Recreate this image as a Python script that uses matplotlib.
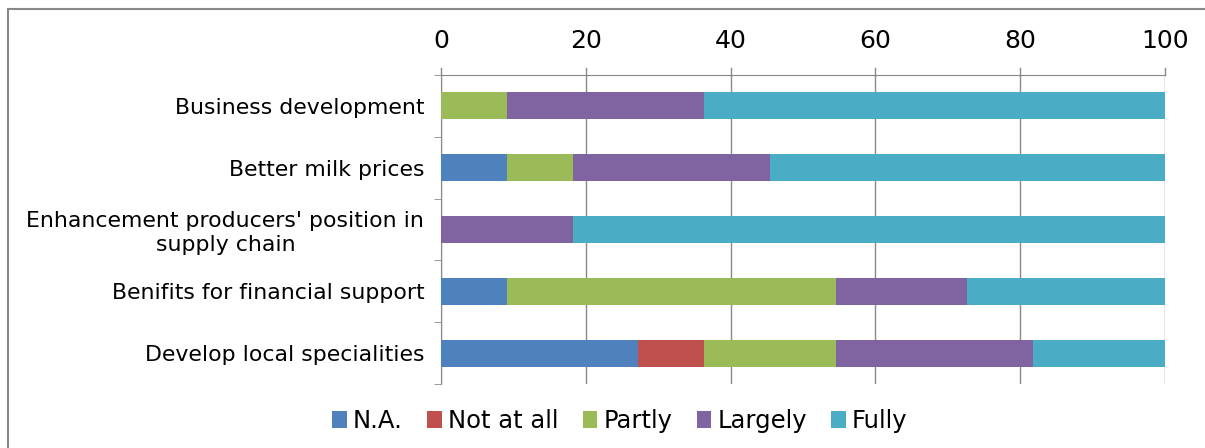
import numpy as np
import matplotlib
matplotlib.use('Agg')
import matplotlib.pyplot as plt
from matplotlib.patches import Rectangle

categories = ['Business development', 'Better milk prices',
              "Enhancement producers' position in\nsupply chain",
              'Benifits for financial support', 'Develop local specialities']
series = ['N.A.', 'Not at all', 'Partly', 'Largely', 'Fully']
colors = ['#4F81BD', '#C0504D', '#9BBB59', '#8064A2', '#4BACC6']

na = [0, 9.09, 0, 9.09, 27.27]
not_at_all = [0, 0, 0, 0, 9.09]
partly = [9.09, 9.09, 0, 45.45, 18.18]
largely = [27.27, 27.27, 18.18, 18.18, 27.27]
fully = [63.64, 54.55, 81.82, 27.27, 18.18]
values = [na, not_at_all, partly, largely, fully]

fig = plt.figure(figsize=(12.05, 4.48), dpi=100)
ax = fig.add_axes([441/1205, 1-384/448, (1165-441)/1205, (384-75)/448])

y = np.arange(len(categories))
left = np.zeros(len(categories))
for name, vals, c in zip(series, values, colors):
    vals = np.array(vals)
    ax.barh(y, vals, left=left, height=0.44, color=c, label=name, zorder=3)
    left += vals

ax.set_xlim(0, 100)
ax.set_ylim(len(categories)-0.5, -0.5)
ax.set_xticks([0, 20, 40, 60, 80, 100])
ax.xaxis.tick_top()
ax.tick_params(axis='x', labelsize=18, length=0, pad=16, colors='#888888', labelcolor='black')
ax.set_yticks(y)
ax.set_yticklabels(categories, fontsize=15.8)
for lab in ax.get_yticklabels():
    lab.set_multialignment('center')
ax.tick_params(axis='y', length=0, pad=12)
ax.set_yticks(np.arange(-0.5, len(categories)), minor=True)
ax.tick_params(axis='y', which='minor', length=5, color='#888888')
ax.grid(axis='x', color='#888888', linewidth=1, zorder=0)
for s in ['right', 'bottom']:
    ax.spines[s].set_visible(False)
for s in ['top', 'left']:
    ax.spines[s].set_color('#888888')
# small tick marks above the top spine
for xv in [0, 20, 40, 60, 80, 100]:
    ax.plot([xv, xv], [-0.5, -0.62], color='#888888', lw=1, clip_on=False)

ax.legend(loc='center', bbox_to_anchor=(620/1205, 1-421/448), bbox_transform=fig.transFigure,
          ncol=5, frameon=False, fontsize=17.5, handlelength=0.6, handleheight=0.75,
          handletextpad=0.25, columnspacing=1.0)

fig.patches.append(Rectangle((8/1205, -0.1), 1.2, 1.1-9/448, transform=fig.transFigure,
                             fill=False, edgecolor='#888888', lw=1.5))

fig.savefig('out.png', dpi=100)
